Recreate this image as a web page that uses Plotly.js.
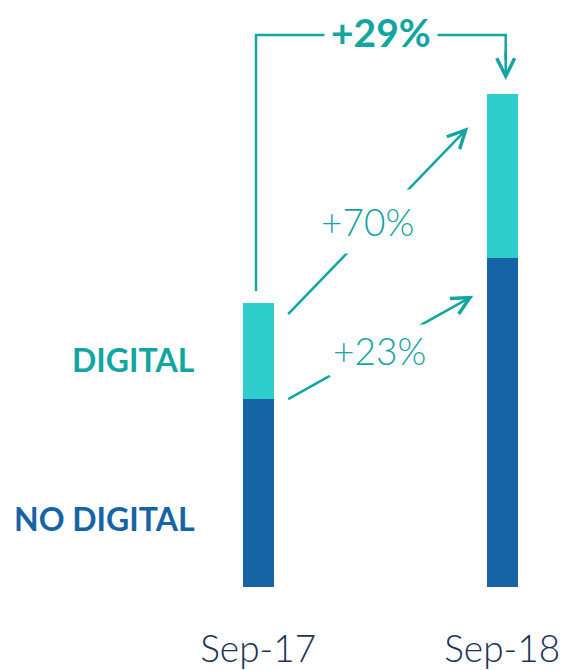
<!DOCTYPE html>
<html>
<head>
<meta charset="utf-8">
<script src="https://cdn.plot.ly/plotly-3.0.1.min.js"></script>
<style>html,body{margin:0;padding:0;background:#fff;}#chart{width:565px;height:670px;}</style>
</head>
<body>
<div id="chart"></div>
<script>
// ---- data ----
const categories = ['Sep-17', 'Sep-18'];
const noDigital = [61.4, 75.5];
const digital = [9.6, 16.4];
const seriesNames = ['NO DIGITAL', 'DIGITAL'];
const growthLabels = { digital: '+70%', noDigital: '+23%', total: '+29%' };

// ---- styles ----
const TEAL_BAR = '#2ECECD';
const BLUE_BAR = '#1664A6';
const TEAL_TXT = '#12A5A2';
const NAVY = '#1C3256';
const FONT = 'Lato, "Open Sans", sans-serif';

const W = 565, H = 670, MB = 83;
const XR = [-1.0582, 1.2574];
const YR = [42.6, 101.3];
// pixel -> data helpers for annotation placement
const fx = px => XR[0] + px / W * (XR[1] - XR[0]);
const fy = py => YR[0] + (H - MB - py) / (H - MB) * (YR[1] - YR[0]);

const traces = [
  { type: 'bar', x: categories, y: noDigital, name: seriesNames[0], marker: { color: BLUE_BAR, line: { width: 0 } }, width: 0.127, hoverinfo: 'none' },
  { type: 'bar', x: categories, y: digital, name: seriesNames[1], marker: { color: TEAL_BAR, line: { width: 0 } }, width: 0.127, hoverinfo: 'none' }
];

const LW = 2.5;
function arrow(tx, ty, hx, hy) {
  return { xref: 'x', yref: 'y', axref: 'x', ayref: 'y', x: fx(hx), y: fy(hy), ax: fx(tx), ay: fy(ty),
    showarrow: true, arrowhead: 5, arrowsize: 1.4, arrowwidth: LW, arrowcolor: TEAL_TXT, text: '' };
}
function label(px, py, text, size, weight, pad) {
  return { xref: 'x', yref: 'y', x: fx(px), y: fy(py), text: text, showarrow: false, bgcolor: '#fff', borderpad: pad,
    font: { family: FONT, size: size, color: TEAL_TXT, weight: weight } };
}

const layout = {
  width: W, height: H,
  margin: { l: 0, r: 0, t: 0, b: MB, pad: 0 },
  paper_bgcolor: '#fff', plot_bgcolor: '#fff',
  barmode: 'stack', showlegend: false,
  xaxis: { type: 'category', range: XR, showgrid: false, zeroline: false, showline: false, ticks: '',
    tickfont: { family: FONT, size: 37, color: NAVY, weight: 300 }, ticklabelstandoff: 37, fixedrange: true },
  yaxis: { range: YR, showgrid: false, zeroline: false, showline: false, showticklabels: false, fixedrange: true },
  shapes: [
    { type: 'path', xref: 'x', yref: 'y', layer: 'above',
      path: `M${fx(256)},${fy(291)} L${fx(256)},${fy(35)} L${fx(505.7)},${fy(35)} L${fx(505.7)},${fy(60)}`,
      line: { color: TEAL_TXT, width: LW } }
  ],
  annotations: [
    arrow(505.7, 50, 505.7, 80),
    arrow(286.7, 315.7, 468.3, 127.3),
    arrow(286.7, 400, 473.3, 295.7),
    label(381, 32, '<b>' + growthLabels.total + '</b>', 39, 700, 6),
    label(367, 221, growthLabels.digital, 37, 300, 9),
    label(379, 350, growthLabels.noDigital, 37, 300, 3),
    { xref: 'paper', yref: 'y', x: 197 / W, xanchor: 'right', y: fy(359), text: '<b>' + seriesNames[1] + '</b>', showarrow: false,
      font: { family: FONT, size: 32, color: TEAL_TXT, weight: 700 } },
    { xref: 'paper', yref: 'y', x: 197 / W, xanchor: 'right', y: fy(518.5), text: '<b>' + seriesNames[0] + '</b>', showarrow: false,
      font: { family: FONT, size: 32, color: BLUE_BAR, weight: 700 } }
  ]
};

Plotly.newPlot('chart', traces, layout, { displayModeBar: false, staticPlot: true });
</script>
</body>
</html>
